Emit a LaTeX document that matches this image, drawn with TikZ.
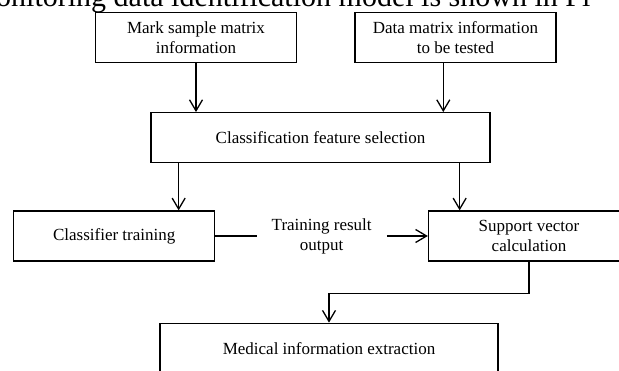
\documentclass[tikz,border=0pt]{standalone}
\usepackage{fontspec}
\setmainfont{Liberation Serif}
\usetikzlibrary{arrows.meta,positioning,calc}

\begin{document}
\begin{tikzpicture}[x=1pt, y=-1pt,
            font=\fontsize{17}{20}\selectfont,
            box/.style={draw, line width=1.3pt, align=center, inner sep=0pt,
                        minimum width=201pt, minimum height=50pt},
            arr/.style={draw, line width=1.3pt,
                        -{Straight Barb[length=11pt,width=13pt,line width=1.3pt]}}]
        \useasboundingbox (0,0) rectangle (619,371);
        % caption line cut at the top
        \node[anchor=base west, inner sep=0pt, font=\fontsize{30}{36}\selectfont] (caption) at (-4,6.5)
             {onitoring data identification model is shown in Fi};
        % boxes
        \node[box] (mark) at (196,37.7) {Mark sample matrix\\information};
        \node[box] (tested) at (455.5,37.7) {Data matrix information\\to be tested};
        \node[box, minimum width=339pt] (feature) at (320.5,137.7) {Classification feature selection};
        \node[box] (trainer) at (114.2,236) {Classifier training};
        \node[box] (svc) at (529,236) {Support vector\\calculation};
        \node[box, minimum width=338pt] (medical) at (329,348.3) {Medical information extraction};
        \node[align=center, inner sep=0pt, minimum width=130pt] (result) at (321.7,236)
             {Training result\\output};
        % connectors
        \draw[arr] (mark.south) -- (mark.south |- feature.north);
        \draw[arr] ([xshift=-12.2pt]tested.south) -- ([xshift=-12.2pt]tested.south |- feature.north);
        \draw[arr] ([xshift=28.3pt]feature.south west) -- ([xshift=28.3pt]feature.south west |- trainer.north);
        \draw[arr] ([xshift=-31pt]feature.south east) -- ([xshift=-31pt]feature.south east |- svc.north);
        \draw[line width=1.3pt] (trainer.east) -- (result.west);
        \draw[arr] (result.east) -- (svc.west);
        \draw[arr] (svc.south) -- ++(0,31.7) -| (medical.north);
\end{tikzpicture}
\end{document}
